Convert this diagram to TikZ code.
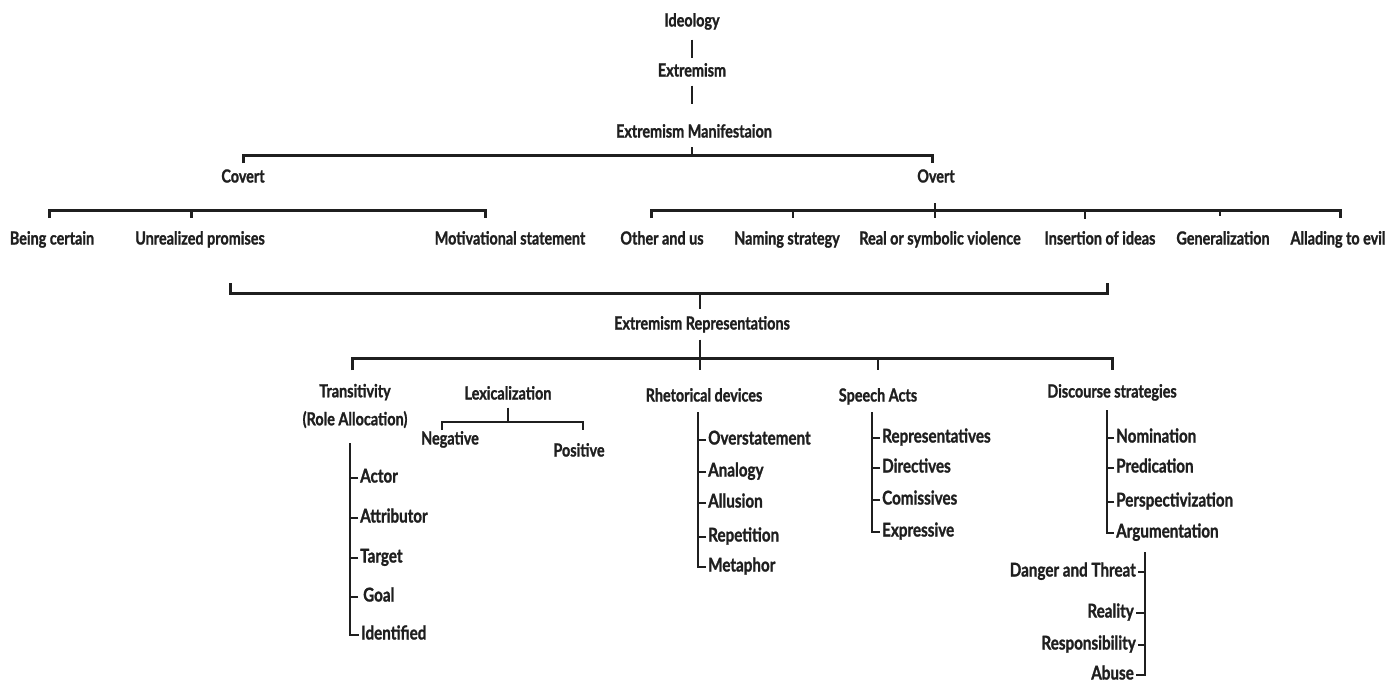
\documentclass[tikz,border=0pt]{standalone}
\usepackage{fontspec}
\setmainfont{Lato}[FakeStretch=0.8,BoldFont={Lato Bold},BoldFeatures={FakeStretch=0.8,FakeBold=1.2}]
\usepackage{tikz}

\begin{document}
\begin{tikzpicture}[x=1pt,y=-1pt,
		lbl/.style={font=\fontsize{18}{20}\selectfont\bfseries,inner sep=2pt,text height=12pt,text depth=3pt,text=black!88},
		item/.style={lbl,anchor=west,font=\fontsize{19}{21}\selectfont\bfseries},
		itemr/.style={item,anchor=east},
		bar/.style={line width=3pt,black!88},
		stem/.style={line width=2.2pt,black!88}]
	\useasboundingbox (0,0) rectangle (1395,686);
	
	% TOP CHAIN
	\node[lbl] (ideo) at (692,22) {Ideology};
	\node[lbl] (extr) at (692,72) {Extremism};
	\node[lbl] (manif) at (694,133) {Extremism Manifestaion};
	\draw[stem,shorten <=8pt,shorten >=4pt] (ideo) -- (extr);
	\draw[stem,shorten <=4pt,shorten >=19pt] (extr.south) -- (extr.south |- manif.north);
	
	% MANIFESTATION BRACKET
	\coordinate (mL) at (243,155);
	\coordinate (mR) at (932,155);
	\coordinate (mM) at (692,155);
	\draw[bar] (mL) ++(0,8) -- (mL) -- (mR) -- ++(0,8);
	\draw[stem] (mM) -- ++(0,-8);
	\node[lbl] (covert) at (243,178) {Covert};
	\node[lbl] (overt) at (936,178) {Overt};
	
	% COVERT
	\coordinate (cL) at (49,210);
	\coordinate (cM) at (191,210);
	\coordinate (cR) at (485,210);
	\draw[bar] (cL) ++(0,8) -- (cL) -- (cR) -- ++(0,8);
	\draw[bar] (cM) -- ++(0,8);
	\node[lbl] (being) at (52,240) {Being certain};
	\node[lbl] (unreal) at (200,240) {Unrealized promises};
	\node[lbl] (motiv) at (510,240) {Motivational statement};
	
	% OVERT
	\coordinate (oL) at (651,210);
	\coordinate (oR) at (1340,210);
	\draw[bar] (oL) ++(0,8) -- (oL) -- (oR) -- ++(0,8);
	\draw[stem] (793,210) -- ++(0,8);
	\draw[stem] (935,203) -- ++(0,15);
	\draw[stem] (1085,210) -- ++(0,9);
	\draw[stem] (1220,210) -- ++(0,6);
	\node[lbl] (other) at (662,240) {Other and us};
	\node[lbl] (naming) at (787,240) {Naming strategy};
	\node[lbl] (real) at (940,240) {Real or symbolic violence};
	\node[lbl] (insert) at (1100,240) {Insertion of ideas};
	\node[lbl] (gener) at (1223,240) {Generalization};
	\node[lbl] (allad) at (1338,240) {Allading to evil};
	
	% REPRESENTATIONS BRACKET
	\coordinate (rL) at (230,293);
	\coordinate (rR) at (1107,293);
	\coordinate (rM) at (700,293);
	\draw[bar] (rL) ++(0,-10) -- (rL) -- (rR) -- ++(0,-10);
	\node[lbl] (repr) at (702,325) {Extremism Representations};
	\draw[stem,shorten >=6pt] (rM) -- (rM |- repr.north);
	
	\coordinate (sL) at (352,358);
	\coordinate (sR) at (1112,358);
	\coordinate (sM) at (700,358);
	\draw[stem,shorten <=5pt] (repr.south -| sM) -- (sM) -- ++(0,12);
	\draw[bar] (sL) ++(0,12) -- (sL) -- (sR) -- ++(0,12);
	\draw[stem] (878,358) -- ++(0,12);
	
	% TRANSITIVITY
	\node[lbl,text height=,text depth=,align=center,font=\fontsize{18}{28}\selectfont\bfseries] (trans) at (355,406) {Transitivity\\(Role Allocation)};
	\coordinate (tTop) at (350,443);
	\node[item] (actor) at (358,478) {Actor};
	\node[item] (attr) at (358,518) {Attributor};
	\node[item] (target) at (358,558) {Target};
	\node[item] (goal) at (361,597) {Goal};
	\node[item] (ident) at (359,635) {Identified};
	\draw[stem] (tTop) |- (ident.west);
	\draw[stem] (actor.west) -- (actor.west -| tTop);
	\draw[stem] (attr.west) -- (attr.west -| tTop);
	\draw[stem] (target.west) -- (target.west -| tTop);
	\draw[stem] ([xshift=-3pt]goal.west) -- (goal.west -| tTop);
	
	% LEXICALIZATION
	\node[lbl] (lexi) at (508,395) {Lexicalization};
	\coordinate (lxL) at (442,422);
	\coordinate (lxR) at (583,422);
	\draw[stem] (lxL) ++(0,8) -- (lxL) -- (lxR) -- ++(0,8);
	\draw[stem,shorten <=3pt] (lexi.south) -- (lexi.south |- lxL);
	\node[lbl] (neg) at (450,440) {Negative};
	\node[lbl] (pos) at (579,452) {Positive};
	
	% RHETORICAL DEVICES
	\node[lbl] (rhet) at (704,397) {Rhetorical devices};
	\coordinate (rhTop) at (698,412);
	\node[item] (overst) at (706,440) {Overstatement};
	\node[item] (analog) at (706,472) {Analogy};
	\node[item] (allus) at (706,503) {Allusion};
	\node[item] (repet) at (706,537) {Repetition};
	\node[item] (metaph) at (706,567) {Metaphor};
	\draw[stem] (rhTop) |- (metaph.west);
	\draw[stem] (overst.west) -- (overst.west -| rhTop);
	\draw[stem] (analog.west) -- (analog.west -| rhTop);
	\draw[stem] (allus.west) -- (allus.west -| rhTop);
	\draw[stem] (repet.west) -- (repet.west -| rhTop);
	
	% SPEECH ACTS
	\node[lbl] (speech) at (878,397) {Speech Acts};
	\coordinate (spTop) at (872,412);
	\node[item] (repres) at (880,438) {Representatives};
	\node[item] (direct) at (880,468) {Directives};
	\node[item] (comiss) at (880,500) {Comissives};
	\node[item] (express) at (880,532) {Expressive};
	\draw[stem] (spTop) |- (express.west);
	\draw[stem] (repres.west) -- (repres.west -| spTop);
	\draw[stem] (direct.west) -- (direct.west -| spTop);
	\draw[stem] (comiss.west) -- (comiss.west -| spTop);
	
	% DISCOURSE STRATEGIES
	\node[lbl] (disc) at (1112,393) {Discourse strategies};
	\coordinate (dTop) at (1107,410);
	\node[item] (nomin) at (1114,438) {Nomination};
	\node[item] (predic) at (1114,468) {Predication};
	\node[item] (persp) at (1114,502) {Perspectivization};
	\node[item] (argum) at (1114,533) {Argumentation};
	\draw[stem] (dTop) |- (argum.west);
	\draw[stem] (nomin.west) -- (nomin.west -| dTop);
	\draw[stem] (predic.west) -- (predic.west -| dTop);
	\draw[stem] (persp.west) -- (persp.west -| dTop);
	
	% ARGUMENTATION TOPOI
	\coordinate (aTop) at (1145,552);
	\node[itemr] (danger) at (1138,572) {Danger and Threat};
	\node[itemr] (reality) at (1136,613) {Reality};
	\node[itemr] (respons) at (1138,645) {Responsibility};
	\node[itemr] (abuse) at (1136,675) {Abuse};
	\draw[stem] (aTop) |- (abuse.east);
	\draw[stem] (danger.east) -- (danger.east -| aTop);
	\draw[stem] (reality.east) -- (reality.east -| aTop);
	\draw[stem] (respons.east) -- (respons.east -| aTop);
\end{tikzpicture}
\end{document}
